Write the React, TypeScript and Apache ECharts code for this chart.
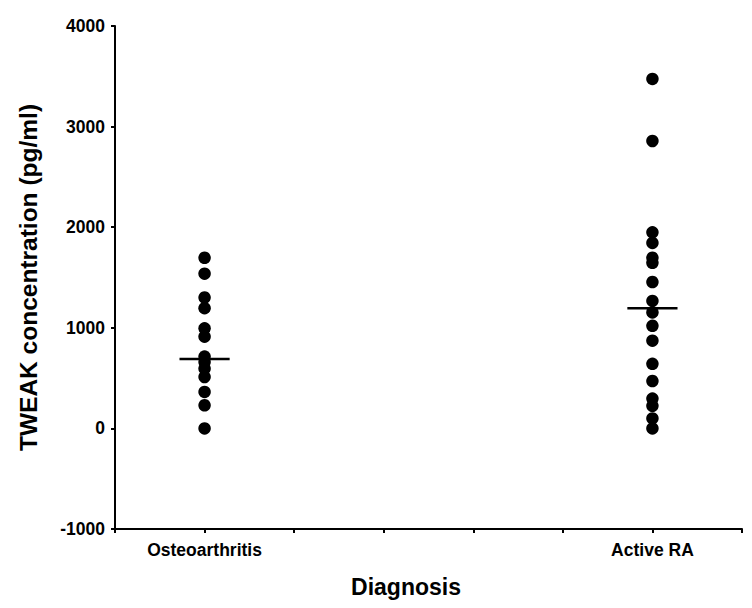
import React, { useEffect, useRef } from "react";
import * as echarts from "echarts";

const categories = ["Osteoarthritis", "Active RA"];
const categoryPositions = [1, 6];
const osteoValues = [1696, 1538, 1301, 1195, 995, 912, 714, 659, 593, 511, 363, 230, 0];
const activeRaValues = [3474, 2857, 1949, 1844, 1696, 1646, 1455, 1267, 1153, 1020, 872, 642, 471, 296, 224, 99, 0];
const medians = [691, 1195];
const yTicks = [-1000, 0, 1000, 2000, 3000, 4000];

const FONT = "Liberation Sans, Arial, sans-serif";

export default function App() {
  const ref = useRef<HTMLDivElement>(null);
  useEffect(() => {
    if (!ref.current) return;
    const chart = echarts.init(ref.current, null, { renderer: "svg" });
    const groups = [osteoValues, activeRaValues];
    const scatterSeries = groups.map((vals, i) => ({
      type: "scatter",
      name: categories[i],
      data: vals.map((v) => [categoryPositions[i], v]),
      symbol: "circle",
      symbolSize: 12.5,
      itemStyle: { color: "#000", opacity: 1 },
      z: 3,
    }));
    const medianSeries = medians.map((m, i) => ({
      type: "line",
      data: [
        [categoryPositions[i] - 0.28, m],
        [categoryPositions[i] + 0.28, m],
      ],
      symbol: "none",
      lineStyle: { color: "#000", width: 2.5 },
      z: 4,
    }));
    chart.setOption({
      animation: false,
      backgroundColor: "#fff",
      grid: { left: 115, right: 10, top: 26, bottom: 79, containLabel: false },
      xAxis: {
        type: "value",
        min: 0,
        max: 7,
        interval: 1,
        splitLine: { show: false },
        axisLine: { show: true, onZero: false, lineStyle: { color: "#000", width: 2 } },
        axisTick: { show: true, length: 4, lineStyle: { color: "#000", width: 2 } },
        axisLabel: {
          margin: 12,
          fontFamily: FONT,
          fontWeight: "bold",
          fontSize: 17.5,
          color: "#000",
          formatter: (v: number) => {
            const idx = categoryPositions.indexOf(v);
            return idx >= 0 ? categories[idx] : "";
          },
        },
      },
      yAxis: {
        type: "value",
        min: yTicks[0],
        max: yTicks[yTicks.length - 1],
        interval: 1000,
        splitLine: { show: false },
        axisLine: { show: true, onZero: false, lineStyle: { color: "#000", width: 2 } },
        axisTick: { show: true, length: 4, lineStyle: { color: "#000", width: 2 } },
        axisLabel: {
          margin: 10,
          fontFamily: FONT,
          fontWeight: "bold",
          fontSize: 17.5,
          color: "#000",
          formatter: (v: number) => String(v),
        },
        name: "TWEAK concentration (pg/ml)",
        nameLocation: "middle",
        nameRotate: 90,
        nameGap: 74,
        nameTextStyle: {
          fontFamily: FONT,
          fontWeight: "bold",
          fontSize: 24.5,
          color: "#000",
        },
      },
      graphic: [
        {
          type: "text",
          x: 406,
          y: 587,
          style: {
            text: "Diagnosis",
            fontFamily: FONT,
            fontWeight: "bold",
            fontSize: 23,
            fill: "#000",
            align: "center",
            verticalAlign: "middle",
          },
        },
      ],
      series: [...scatterSeries, ...medianSeries],
    });
    return () => chart.dispose();
  }, []);
  return (
    <div
      ref={ref}
      style={{ position: "fixed", left: 0, top: 0, width: 752, height: 608, background: "#fff" }}
    />
  );
}
